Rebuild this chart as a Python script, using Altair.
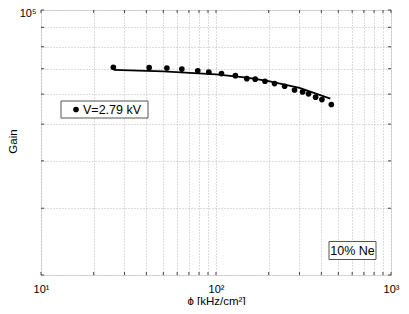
import altair as alt
import pandas as pd

# measured points
phi = [25.9, 41.5, 52.4, 63.8, 78.7, 91.0, 107.5, 129.0, 150.0, 167.5,
       190.5, 216.0, 246.7, 281.0, 312.5, 338.0, 371.0, 403.0, 456.0]
gain = [70650, 70440, 70300, 69850, 69100, 68550, 67950, 67100, 65900, 65700,
        64870, 63960, 62950, 61520, 60800, 60100, 58900, 58050, 56320]

# fitted curve
fit_phi = [26, 50, 100, 150, 200, 300, 450]
fit_gain = [69500, 68900, 67600, 66300, 64900, 62300, 58400]

# grid / tick positions
x_ticks = [10, 20, 30, 40, 50, 60, 70, 80, 90, 100, 200, 300, 400, 500, 600,
           700, 800, 900, 1000]
y_ticks = [20000, 30000, 40000, 50000, 60000, 70000, 80000, 90000, 100000]

legend_label = "V=2.79 kV"
note_label = "10% Ne"

FONT = "Liberation Sans"
W, H = 350, 265

pts = pd.DataFrame({"phi": phi, "gain": gain})
fit = pd.DataFrame({"phi": fit_phi, "gain": fit_gain})
xt = pd.DataFrame({"phi": x_ticks})
yt = pd.DataFrame({"gain": y_ticks})

xs = alt.Scale(type="log", domain=[10, 1000], nice=False)
ys = alt.Scale(type="log", domain=[20000, 100000], nice=False)

x_axis = alt.Axis(
    values=x_ticks,
    labelExpr="datum.value == 10 ? '10¹' : datum.value == 100 ? '10²' : datum.value == 1000 ? '10³' : ''",
    grid=True, gridDash=[1, 2], gridColor="#b8b8b8", gridWidth=1,
    ticks=False, domain=False,
    labelFont=FONT, labelFontSize=11, labelColor="black", labelPadding=8,
    labelFlush=False, labelOverlap=False,
    title="ϕ [kHz/cm²]", titleFont=FONT, titleFontSize=11.5, titleFontWeight="normal",
    titleColor="black", titleY=29, titleBaseline="alphabetic",
)
y_axis = alt.Axis(
    values=y_ticks,
    labelExpr="datum.value == 100000 ? '10⁵' : ''",
    grid=True, gridDash=[1, 2], gridColor="#b8b8b8", gridWidth=1,
    ticks=False, domain=False,
    labelFont=FONT, labelFontSize=11, labelColor="black", labelPadding=5,
    labelOverlap=False, labelFlush=False, labelBaseline="middle", labelOffset=3,
    title="Gain", titleFont=FONT, titleFontSize=11.5, titleFontWeight="normal",
    titleColor="black", titleX=-28, titleY=131, titleAngle=-90,
    titleAlign="center", titleBaseline="middle",
)

line = alt.Chart(fit).mark_line(color="black", strokeWidth=1.8).encode(
    x=alt.X("phi:Q", scale=xs, axis=x_axis),
    y=alt.Y("gain:Q", scale=ys, axis=y_axis),
)
points = alt.Chart(pts).mark_circle(size=32, color="black", opacity=1).encode(
    x="phi:Q", y="gain:Q"
)

tick_col = "#444"
xb = alt.Chart(xt).mark_rule(color=tick_col, strokeWidth=1).encode(
    x="phi:Q", y=alt.value(H), y2=alt.value(H - 3))
xtop = alt.Chart(xt).mark_rule(color=tick_col, strokeWidth=1).encode(
    x="phi:Q", y=alt.value(0), y2=alt.value(3))
yl = alt.Chart(yt).mark_rule(color=tick_col, strokeWidth=1).encode(
    y="gain:Q", x=alt.value(0), x2=alt.value(3))
yr = alt.Chart(yt).mark_rule(color=tick_col, strokeWidth=1).encode(
    y="gain:Q", x=alt.value(W), x2=alt.value(W - 3))

one = alt.Data(values=[{}])
leg_box = alt.Chart(one).mark_rect(fill="white", stroke="#555", strokeWidth=1).encode(
    x=alt.value(20), x2=alt.value(107), y=alt.value(91), y2=alt.value(108))
leg_dot = alt.Chart(one).mark_circle(size=32, color="black", opacity=1).encode(
    x=alt.value(35), y=alt.value(99.5))
leg_txt = alt.Chart(one).mark_text(
    text=legend_label, font=FONT, fontSize=12.5, align="left", baseline="middle",
    color="black").encode(x=alt.value(42), y=alt.value(100))

ne_box = alt.Chart(one).mark_rect(fill="white", stroke="#555", strokeWidth=1).encode(
    x=alt.value(288), x2=alt.value(335), y=alt.value(231.5), y2=alt.value(249.5))
ne_txt = alt.Chart(one).mark_text(
    text=note_label, font=FONT, fontSize=12.5, align="center", baseline="middle",
    color="black").encode(x=alt.value(311.5), y=alt.value(241))

chart = alt.layer(
    line, xb, xtop, yl, yr, points, leg_box, leg_dot, leg_txt, ne_box, ne_txt
).properties(
    width=W, height=H,
    padding={"left": 33, "top": 2, "right": 10, "bottom": 30},
    autosize="none",
).configure_view(stroke="#555", strokeWidth=1.2).configure(background="white")

chart.save("out.html", embed_options={"renderer": "svg", "actions": False})
